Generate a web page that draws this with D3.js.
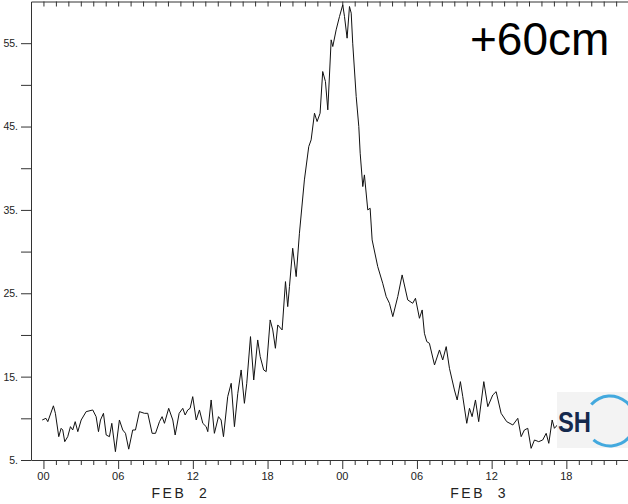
<!DOCTYPE html>
<html>
<head>
<meta charset="utf-8">
<script src="https://cdn.jsdelivr.net/npm/d3@7"></script>
<style>
  body { margin: 0; background: #fff; }
  svg { display: block; }
  .tick text { font-family: "Liberation Sans", Arial, sans-serif; fill: #222; }
</style>
</head>
<body>
<svg id="chart" width="628" height="504"></svg>
<script>
// hours since 00 UTC Feb 2, sea level (cm)
const hours = [-0.1, 0.2, 0.35, 0.8, 0.96, 1.23, 1.42, 1.55, 1.71, 1.95, 2.17, 2.35, 2.55, 2.76, 3.03, 3.43, 3.96, 4.23, 4.42, 4.58, 4.82, 5.04, 5.3, 5.49, 5.78,
  6.1, 6.37, 6.59, 6.85, 7.17, 7.39, 7.71, 8.11, 8.38, 8.73, 9.0, 9.32, 9.53, 9.72, 10.06, 10.39, 10.58, 10.9, 11.19, 11.38, 11.59, 11.78,
  11.99, 12.27, 12.53, 12.8, 13.07, 13.2, 13.47, 13.73, 14.06, 14.27, 14.46, 14.8, 15.08, 15.34, 15.61, 15.88, 16.14, 16.33, 16.63, 16.89,
  17.21, 17.41, 17.69, 17.89, 18.21, 18.42, 18.63, 18.82, 19.17, 19.44, 19.62, 19.76, 20.02, 20.3, 20.56, 20.96, 21.31, 21.5, 21.77, 21.98,
  22.22, 22.43, 22.65, 22.84, 23.11, 23.24, 23.51, 23.78, 24.04, 24.18, 24.39, 24.58, 24.72, 24.84, 25.12, 25.33, 25.44, 25.65, 25.78,
  26.05, 26.24, 26.4, 26.85, 27.25, 27.53, 27.79, 28.06, 28.46, 28.81, 29.26, 29.66, 29.88, 30.2, 30.42, 30.6, 30.79, 31.0, 31.41, 31.81,
  32.07, 32.35, 32.61, 33.01, 33.23, 33.49, 33.68, 34.0, 34.22, 34.43, 34.7, 34.96, 35.37, 35.69, 36.09, 36.36, 36.76, 37.21, 37.7, 38.1,
  38.37, 38.63, 38.9, 39.17, 39.44, 39.78, 40.1, 40.38, 40.59, 40.86, 41.04, 41.4, 41.8];
const level = [9.8, 10.0, 9.6, 11.5, 10.6, 7.8, 8.8, 8.6, 7.2, 7.8, 9.0, 8.6, 9.6, 8.4, 9.8, 10.8, 11.0, 10.2, 8.4, 9.8, 10.6, 8.0, 7.8, 9.4, 6.0,
  9.8, 8.6, 8.2, 6.3, 8.6, 8.6, 10.8, 10.6, 10.6, 8.2, 8.2, 9.6, 10.2, 9.4, 11.2, 9.8, 8.0, 10.6, 11.2, 10.4, 11.0, 11.2,
  12.6, 9.8, 11.0, 9.4, 9.0, 8.4, 12.2, 8.2, 10.2, 9.8, 7.8, 12.6, 14.2, 9.0, 13.0, 15.8, 11.8, 14.2, 19.8, 14.6,
  19.4, 17.4, 15.8, 15.6, 21.8, 20.6, 18.4, 21.2, 20.6, 26.4, 23.4, 25.8, 30.4, 27.0, 32.2, 38.6, 42.6, 43.4, 46.6, 45.6,
  46.6, 51.6, 50.4, 47.0, 55.4, 54.6, 56.6, 58.2, 59.6, 58.2, 55.6, 59.4, 58.6, 55.0, 48.6, 45.0, 41.8, 37.8, 39.2,
  35.0, 35.2, 31.4, 28.2, 26.2, 24.6, 23.8, 22.2, 24.6, 27.2, 24.2, 23.8, 24.4, 22.0, 23.0, 20.2, 19.2, 19.0, 16.4, 18.2,
  17.0, 18.6, 16.0, 13.4, 12.2, 14.4, 12.6, 9.4, 11.2, 10.2, 12.2, 9.6, 14.4, 11.4, 12.8, 13.2, 10.6, 9.6, 9.2, 10.0,
  7.8, 8.6, 8.8, 6.4, 7.4, 7.2, 7.4, 8.2, 7.0, 9.8, 8.8, 9.4, 8.6];

const yTicks = [5, 10, 15, 20, 25, 30, 35, 40, 45, 50, 55];
const yLabels = [5, 15, 25, 35, 45, 55];
const hourTicks = d3.range(0, 48);
const dayLabels = [{ h: 11, text: "FEB  2" }, { h: 35, text: "FEB  3" }];
const badge = "+60cm";

const svg = d3.select("#chart");
const x = d3.scaleLinear().domain([-1, 48]).range([31, 31 + 49 * 12.45]);
const y = d3.scaleLinear().domain([5, 60]).range([460, 1.5]);

const frameColor = "#333";

// left axis
const gLeft = svg.append("g")
  .attr("transform", `translate(${x(-1)},0)`)
  .call(d3.axisLeft(y).tickValues(yTicks).tickSize(10).tickSizeOuter(0).tickPadding(3)
    .tickFormat(d => yLabels.includes(d) ? d + "." : ""));
gLeft.selectAll("text").attr("font-size", 10.5);

// bottom axis
const gBottom = svg.append("g")
  .attr("transform", `translate(0,${y(5)})`)
  .call(d3.axisBottom(x).tickValues(hourTicks).tickSize(5).tickSizeOuter(0).tickFormat(""));
gBottom.selectAll(".tick line").filter(d => d % 6 === 0).attr("y2", 9);

// top frame
svg.append("g")
  .attr("transform", `translate(0,${y(60)})`)
  .call(d3.axisTop(x).tickValues(hourTicks).tickSize(-5).tickSizeOuter(0).tickFormat(""));

svg.selectAll(".domain, .tick line").attr("stroke", frameColor);

// hour labels
svg.append("g").selectAll("text")
  .data(hourTicks.filter(h => h % 6 === 0))
  .join("text")
  .attr("x", d => x(d))
  .attr("y", y(5) + 20)
  .attr("text-anchor", "middle")
  .attr("font-family", "Liberation Sans, Arial, sans-serif")
  .attr("font-size", 11)
  .attr("fill", "#222")
  .text(d => String(d % 24).padStart(2, "0"));

// day labels
svg.append("g").selectAll("text")
  .data(dayLabels)
  .join("text")
  .attr("x", d => x(d.h))
  .attr("y", y(5) + 38)
  .attr("text-anchor", "middle")
  .attr("font-family", "Liberation Sans, Arial, sans-serif")
  .attr("font-size", 14)
  .attr("letter-spacing", 2.5)
  .attr("fill", "#222")
  .style("white-space", "pre")
  .text(d => d.text);

// series
const line = d3.line().x((d, i) => x(hours[i])).y(d => y(d));
svg.append("path")
  .datum(level)
  .attr("fill", "none")
  .attr("stroke", "#111")
  .attr("stroke-width", 1)
  .attr("d", line);

// label
svg.append("text")
  .attr("x", 470)
  .attr("y", 55)
  .attr("font-family", "Liberation Sans, Arial, sans-serif")
  .attr("font-size", 46)
  .attr("fill", "#000")
  .text(badge);

// logo
const logo = svg.append("g").attr("transform", "translate(557,392)");
logo.append("rect").attr("width", 71).attr("height", 56).attr("fill", "#f3f3f3");
logo.append("text")
  .attr("x", 1).attr("y", 40)
  .attr("font-family", "Liberation Sans, Arial, sans-serif")
  .attr("font-weight", "bold")
  .attr("font-size", 29)
  .attr("textLength", 33)
  .attr("lengthAdjust", "spacingAndGlyphs")
  .attr("fill", "#15294d")
  .text("SH");
logo.append("path")
  .attr("transform", "translate(53,29)")
  .attr("d", d3.arc().innerRadius(23.5).outerRadius(26.5).startAngle(-0.27 * Math.PI).endAngle(1.23 * Math.PI)())
  .attr("fill", "#43a9de");
</script>
</body>
</html>
